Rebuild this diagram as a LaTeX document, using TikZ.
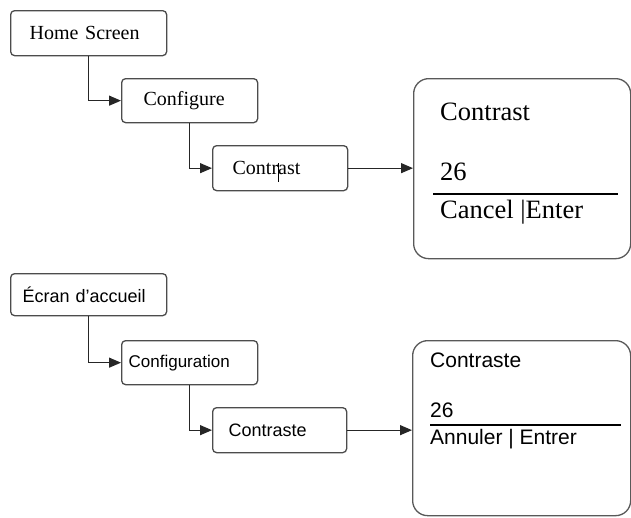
\documentclass[tikz,border=0pt]{standalone}
\usepackage{fontspec}
\setmainfont{Liberation Serif}
\newfontfamily\arialf{Liberation Sans}
\usetikzlibrary{arrows.meta}
\begin{document}
\begin{tikzpicture}[x=1pt,y=-1pt,
  box/.style={draw=black!70, line width=1.3pt, rounded corners=4pt, align=left, inner ysep=0pt, anchor=north west},
  screen/.style={draw=black!65, line width=1.3pt, rounded corners=15pt, anchor=north west, inner sep=0pt},
  conn/.style={draw=black!85, line width=1.2pt, -{Triangle[length=12pt,width=10pt]}},
  txt/.style={anchor=base west, inner sep=0pt},
  serifA/.style={font=\fontsize{20pt}{24pt}\selectfont},
  serifB/.style={font=\fontsize{26.5pt}{30pt}\selectfont},
  sansA/.style={font=\arialf\fontsize{18pt}{22pt}\selectfont},
  sansB/.style={font=\arialf\fontsize{21pt}{25pt}\selectfont}
]
\useasboundingbox[fill=white] (0,0) rectangle (631,517);

% ---------- English ----------
\node[box, serifA, inner xsep=19pt, text width=118pt, minimum height=45pt] (home) at (10,10) {Home Screen};
\node[box, serifA, inner xsep=22pt, text width=92pt, minimum height=44pt] (conf) at (121,78) {Configure};
\node[box, serifA, inner xsep=20pt, text width=95pt, minimum height=45pt] (con) at (212,145) {Contrast};
\node[screen, minimum width=217pt, minimum height=180pt] (scr) at (413,78) {};

\draw[conn] (home.south) |- (conf.west);
\draw[conn] (conf.south) |- (con.west);
\draw[conn] (con.east) -- (con.east -| scr.west);
\draw[line width=1pt] (278,163) -- (278,182);

\node[txt, serifB] (t1) at (440,120) {Contrast};
\node[txt, serifB] (t2) at (440,180) {26};
\draw[line width=2.5pt] (433,194) -- (618,194);
\node[txt, serifB] (t3) at (440,218) {Cancel |Enter};

% ---------- French ----------
\node[box, sansA, inner xsep=12pt, text width=132pt, minimum height=42pt] (ecran) at (10,273) {Écran d’accueil};
\node[box, font=\arialf\fontsize{17pt}{21pt}\selectfont, inner xsep=7pt, text width=122pt, minimum height=44pt] (config) at (121,340) {Configuration};
\node[box, sansA, inner xsep=16pt, text width=102pt, minimum height=45pt] (cste) at (212,407) {Contraste};
\node[screen, minimum width=218pt, minimum height=175pt] (scr2) at (412,340) {};

\draw[conn] (ecran.south) |- (config.west);
\draw[conn] (config.south) |- (cste.west);
\draw[conn] (cste.east) -- (cste.east -| scr2.west);

\node[txt, sansB] (f1) at (430,367) {Contraste};
\node[txt, sansB] (f2) at (430,417) {26};
\draw[line width=1.6pt] (430,425) -- (621,425);
\node[txt, sansB] (f3) at (430,444) {Annuler | Entrer};
\end{tikzpicture}
\end{document}
